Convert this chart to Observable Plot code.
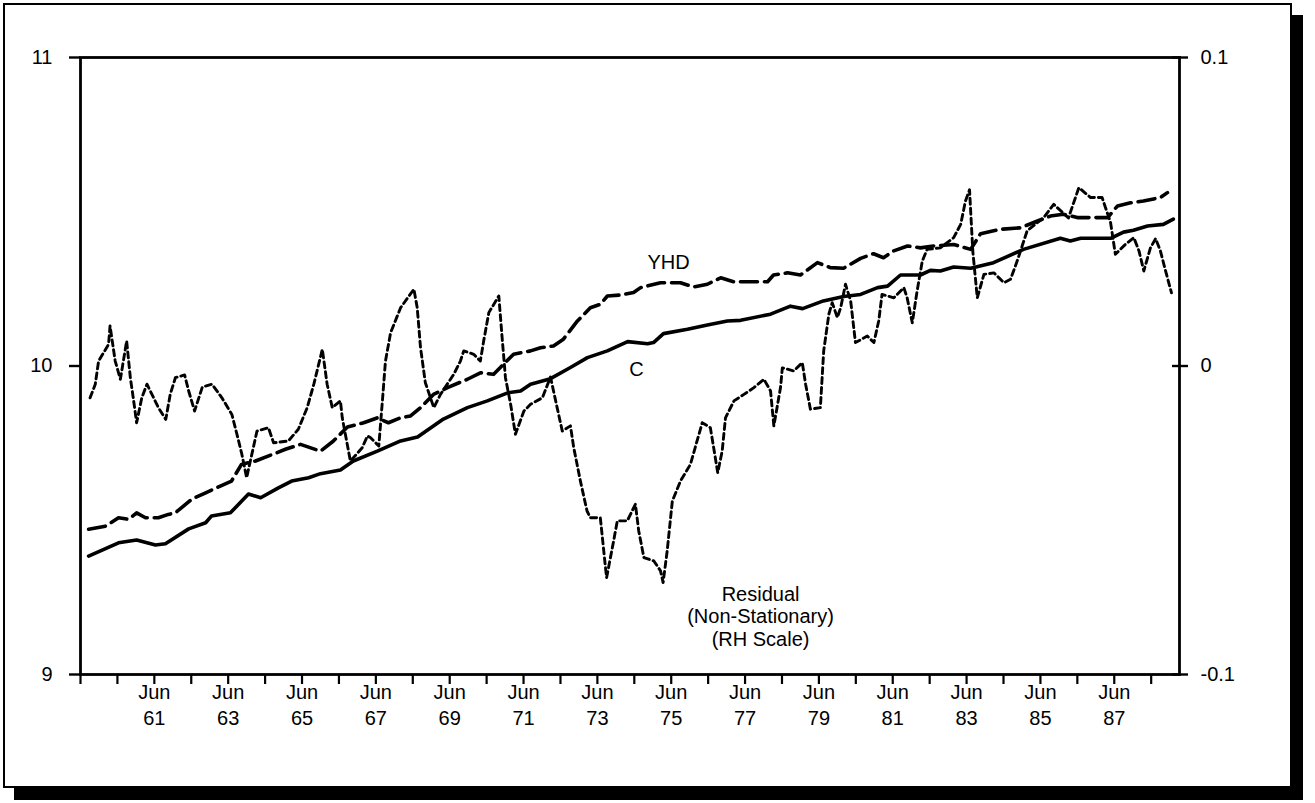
<!DOCTYPE html>
<html><head><meta charset="utf-8">
<script src="https://cdn.jsdelivr.net/npm/d3@7"></script>
<script src="https://cdn.jsdelivr.net/npm/@observablehq/plot@0.6"></script>
<style>
html,body{margin:0;padding:0;background:#fff;}
#frame{position:absolute;left:3px;top:3px;width:1285px;height:781px;border:2px solid #000;box-shadow:11px 12px 0 #000;background:#fff;}
#chart{position:absolute;left:0;top:0;}
</style></head><body>
<div id="frame"></div>
<div id="chart"></div>
<script>
// C (LH scale): [decimal year, value]
const cSeries = [[1959.72,9.384],[1960.53,9.427],[1961.02,9.436],[1961.53,9.420],[1961.80,9.424],[1962.43,9.472],[1962.89,9.492],[1963.05,9.514],[1963.56,9.524],[1964.05,9.585],[1964.38,9.573],[1964.86,9.605],[1965.22,9.627],[1965.68,9.638],[1966.00,9.651],[1966.54,9.663],[1966.89,9.692],[1967.54,9.724],[1968.17,9.757],[1968.63,9.770],[1969.33,9.828],[1969.98,9.865],[1970.52,9.887],[1971.07,9.913],[1971.42,9.919],[1971.69,9.941],[1972.23,9.959],[1972.77,9.995],[1973.23,10.027],[1973.77,10.049],[1974.32,10.079],[1974.86,10.072],[1975.02,10.076],[1975.29,10.105],[1975.94,10.119],[1976.48,10.133],[1977.02,10.146],[1977.38,10.148],[1978.19,10.168],[1978.73,10.194],[1979.06,10.186],[1979.62,10.211],[1980.17,10.225],[1980.63,10.232],[1981.09,10.254],[1981.36,10.259],[1981.71,10.295],[1982.25,10.295],[1982.52,10.310],[1982.79,10.308],[1983.15,10.321],[1983.61,10.317],[1984.23,10.335],[1985.04,10.378],[1986.04,10.414],[1986.31,10.405],[1986.59,10.414],[1987.40,10.414],[1987.75,10.434],[1988.02,10.440],[1988.40,10.454],[1988.83,10.459],[1989.10,10.476]];

// YHD (LH scale)
const yhdSeries = [[1959.72,9.471],[1960.18,9.481],[1960.53,9.508],[1960.80,9.503],[1961.02,9.524],[1961.26,9.508],[1961.61,9.508],[1961.88,9.519],[1962.07,9.524],[1962.51,9.568],[1962.89,9.589],[1963.24,9.608],[1963.59,9.627],[1963.86,9.681],[1964.24,9.692],[1964.67,9.712],[1965.05,9.730],[1965.46,9.746],[1966.00,9.724],[1966.35,9.757],[1966.73,9.802],[1967.17,9.816],[1967.54,9.832],[1967.84,9.816],[1968.17,9.832],[1968.44,9.838],[1968.71,9.865],[1969.06,9.908],[1969.44,9.930],[1969.98,9.957],[1970.33,9.978],[1970.69,9.973],[1970.96,10.006],[1971.23,10.038],[1971.69,10.049],[1971.96,10.059],[1972.31,10.065],[1972.58,10.087],[1972.96,10.146],[1973.31,10.189],[1973.58,10.200],[1973.77,10.227],[1974.13,10.230],[1974.48,10.238],[1974.67,10.254],[1975.21,10.270],[1975.75,10.270],[1976.10,10.256],[1976.48,10.265],[1976.84,10.286],[1977.19,10.273],[1978.11,10.273],[1978.27,10.295],[1978.65,10.302],[1979.00,10.295],[1979.46,10.335],[1979.81,10.319],[1980.17,10.317],[1980.63,10.349],[1980.98,10.364],[1981.25,10.351],[1981.52,10.373],[1981.90,10.389],[1982.25,10.383],[1982.60,10.389],[1983.15,10.394],[1983.61,10.378],[1983.88,10.429],[1984.42,10.443],[1984.96,10.448],[1985.42,10.470],[1985.77,10.486],[1986.12,10.492],[1986.50,10.481],[1987.32,10.481],[1987.59,10.519],[1987.94,10.529],[1988.29,10.535],[1988.75,10.546],[1988.94,10.562]];

// Residual (RH scale)
const residSeries = [[1959.76,-0.0103],[1959.90,-0.0059],[1959.99,0.0016],[1960.26,0.0070],[1960.30,0.0130],[1960.44,0.0016],[1960.58,-0.0043],[1960.75,0.0081],[1960.85,-0.0038],[1960.94,-0.0113],[1961.02,-0.0184],[1961.16,-0.0103],[1961.30,-0.0059],[1961.48,-0.0103],[1961.61,-0.0135],[1961.81,-0.0173],[1961.93,-0.0092],[1962.07,-0.0038],[1962.32,-0.0029],[1962.43,-0.0081],[1962.59,-0.0146],[1962.80,-0.0068],[1963.06,-0.0059],[1963.33,-0.0103],[1963.60,-0.0157],[1963.76,-0.0232],[1963.87,-0.0286],[1964.00,-0.0362],[1964.28,-0.0211],[1964.59,-0.0200],[1964.73,-0.0249],[1965.13,-0.0243],[1965.40,-0.0205],[1965.64,-0.0135],[1965.82,-0.0059],[1966.05,0.0054],[1966.18,-0.0059],[1966.32,-0.0135],[1966.54,-0.0113],[1966.59,-0.0168],[1966.81,-0.0308],[1967.13,-0.0265],[1967.27,-0.0227],[1967.35,-0.0232],[1967.58,-0.0259],[1967.67,-0.0124],[1967.76,0.0016],[1967.90,0.0108],[1968.17,0.0189],[1968.53,0.0249],[1968.62,0.0189],[1968.71,0.0059],[1968.84,-0.0054],[1969.07,-0.0135],[1969.25,-0.0092],[1969.61,-0.0027],[1969.79,0.0016],[1969.88,0.0049],[1970.15,0.0038],[1970.33,0.0016],[1970.42,0.0081],[1970.56,0.0173],[1970.83,0.0227],[1970.92,0.0092],[1971.01,-0.0038],[1971.15,-0.0124],[1971.28,-0.0221],[1971.51,-0.0146],[1971.69,-0.0124],[1972.01,-0.0103],[1972.23,-0.0036],[1972.41,-0.0135],[1972.55,-0.0211],[1972.77,-0.0194],[1972.86,-0.0265],[1973.04,-0.0373],[1973.22,-0.0470],[1973.31,-0.0492],[1973.58,-0.0492],[1973.72,-0.0654],[1973.75,-0.0686],[1973.94,-0.0567],[1974.04,-0.0502],[1974.31,-0.0502],[1974.53,-0.0448],[1974.62,-0.0535],[1974.76,-0.0621],[1975.03,-0.0632],[1975.21,-0.0664],[1975.28,-0.0702],[1975.39,-0.0600],[1975.53,-0.0438],[1975.75,-0.0373],[1976.02,-0.0319],[1976.20,-0.0243],[1976.34,-0.0184],[1976.56,-0.0200],[1976.65,-0.0265],[1976.76,-0.0346],[1976.88,-0.0276],[1976.97,-0.0168],[1977.20,-0.0113],[1977.47,-0.0092],[1977.74,-0.0070],[1978.01,-0.0043],[1978.19,-0.0081],[1978.28,-0.0194],[1978.46,-0.0070],[1978.51,-0.0006],[1978.82,-0.0016],[1979.05,0.0011],[1979.14,-0.0059],[1979.27,-0.0140],[1979.54,-0.0135],[1979.63,0.0049],[1979.77,0.0168],[1979.86,0.0205],[1980.00,0.0157],[1980.09,0.0189],[1980.22,0.0265],[1980.36,0.0211],[1980.49,0.0076],[1980.81,0.0097],[1980.99,0.0076],[1981.12,0.0146],[1981.21,0.0232],[1981.53,0.0221],[1981.80,0.0254],[1981.89,0.0221],[1982.03,0.0140],[1982.16,0.0243],[1982.30,0.0340],[1982.43,0.0378],[1982.79,0.0383],[1983.15,0.0416],[1983.34,0.0459],[1983.47,0.0535],[1983.58,0.0571],[1983.67,0.0370],[1983.79,0.0221],[1983.97,0.0297],[1984.24,0.0302],[1984.51,0.0270],[1984.69,0.0281],[1984.87,0.0340],[1985.14,0.0438],[1985.59,0.0481],[1985.86,0.0524],[1986.26,0.0480],[1986.54,0.0578],[1986.86,0.0546],[1987.17,0.0546],[1987.40,0.0465],[1987.53,0.0362],[1987.80,0.0394],[1988.03,0.0416],[1988.17,0.0373],[1988.30,0.0308],[1988.48,0.0383],[1988.62,0.0413],[1988.75,0.0373],[1988.89,0.0308],[1989.05,0.0237]];

const leftTicks = [9, 10, 11];
const rightTicks = [-0.1, 0, 0.1];
const tickYears = d3.range(1959, 1989);           // a tick each June
const labelYears = [1961,1963,1965,1967,1969,1971,1973,1975,1977,1979,1981,1983,1985,1987];
const labels = [
  {t: 1975.43, v: 10.337, text: "YHD"},
  {t: 1974.56, v: 9.99, text: "C"},
  {t: 1977.92, v: 9.19, text: "Residual\n(Non-Stationary)\n(RH Scale)"}
];

// Residual mapped onto the LH scale: 10 + 10*r  (0.1 <-> 11, -0.1 <-> 9)
const toLeft = r => 10 + 10 * r;
const toRight = v => Math.round((v - 10) / 10 * 1000) / 1000;
const jun = y => y + 0.5;

const cData = cSeries.map(([t, v]) => ({t, v}));
const yhdData = yhdSeries.map(([t, v]) => ({t, v}));
const resData = residSeries.map(([t, r]) => ({t, v: toLeft(r)}));

const font = "'Liberation Sans', Arial, Helvetica, sans-serif";

const chart = Plot.plot({
  width: 1315, height: 803,
  marginLeft: 80, marginRight: 136, marginTop: 57, marginBottom: 129,
  x: {domain: [1959.5, 1989.267]},
  y: {domain: [9, 11]},
  style: {fontFamily: font, fontSize: "20px", color: "#000", background: "none", overflow: "visible"},
  marks: [
    Plot.line(resData, {x: "t", y: "v", stroke: "#000", strokeWidth: 2.9, strokeDasharray: "6,4", strokeLinejoin: "round"}),
    Plot.line(yhdData, {x: "t", y: "v", stroke: "#000", strokeWidth: 3.6, strokeDasharray: "17,7", strokeLinejoin: "round"}),
    Plot.line(cData, {x: "t", y: "v", stroke: "#000", strokeWidth: 3.6, strokeLinejoin: "round"}),
    Plot.frame({stroke: "#000", strokeWidth: 2.8}),
    Plot.axisY(leftTicks, {anchor: "left", tickSize: 11, tickPadding: 17, strokeWidth: 2.4, tickFormat: d => String(d), label: null, fontSize: 20}),
    Plot.axisY(rightTicks.map(toLeft), {anchor: "right", tickSize: 8, tickPadding: 13, strokeWidth: 2.4, tickFormat: d => String(toRight(d)), label: null, fontSize: 20}),
    Plot.axisY(rightTicks.map(toLeft), {anchor: "right", tickSize: 8, dx: -8, strokeWidth: 2.4, tickFormat: () => "", label: null}),
    Plot.axisX(tickYears.map(jun), {anchor: "bottom", tickSize: 10, strokeWidth: 2.2, tickFormat: () => "", label: null}),
    Plot.axisX(labelYears.map(jun), {anchor: "bottom", tickSize: 0, tickPadding: 6, lineHeight: 1.3,
      tickFormat: d => "Jun\n" + String(Math.floor(d) % 100), label: null, fontSize: 20}),
    Plot.text(labels, {x: "t", y: "v", text: "text", fontSize: 20, lineHeight: 1.13, fill: "#000"})
  ]
});
document.getElementById("chart").appendChild(chart);
</script>
</body></html>
